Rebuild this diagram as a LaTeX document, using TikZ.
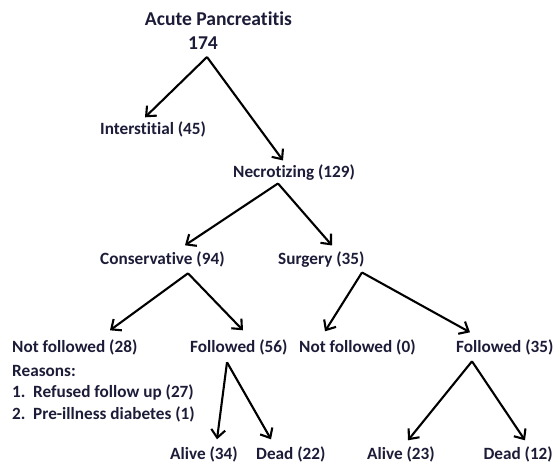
\documentclass[tikz,border=0pt]{standalone}
\usepackage{fontspec}
\setmainfont{Carlito}[Ligatures=NoCommon]
\usetikzlibrary{arrows.meta,calc}
\definecolor{ink}{HTML}{1C1C38}
\tikzset{
  lbl/.style={inner sep=0pt, text=ink, font=\fontsize{17.2}{21.5}\selectfont\bfseries},
  ttl/.style={inner sep=0pt, text=ink, font=\fontsize{19.6}{23}\selectfont\bfseries},
  arr/.style={line width=2.1pt, -{Straight Barb[length=8pt,width=14pt,line width=2.1pt]}}
}

\begin{document}
\begin{tikzpicture}[x=1pt,y=-1pt]
			%%%%% START %%%%%
			\useasboundingbox (0,0) rectangle (554,465);
			
			\node[ttl] (title) at (218.5, 19) {Acute Pancreatitis};
			\node[ttl] (total) at (203, 43) {174};
			
			\node[lbl, anchor=mid west] (inter) at (100, 132) {Interstitial (45)};
			\node[lbl, anchor=mid west] (necro) at (233, 175) {Necrotizing (129)};
			
			\node[lbl, anchor=mid west] (cons) at (100, 262) {Conservative (94)};
			\node[lbl, anchor=mid west] (surg) at (278, 262) {Surgery (35)};
			
			\node[lbl, anchor=mid west] (nfa) at (12, 350) {Not followed (28)};
			\node[lbl, anchor=mid west] (fa) at (190, 350) {Followed (56)};
			\node[lbl, anchor=mid west] (nfb) at (299, 350) {Not followed (0)};
			\node[lbl, anchor=mid west] (fb) at (456, 350) {Followed (35)};
			
			\node[lbl, anchor=west, align=left] (why) at (12, 393.5)
			  {Reasons:\\\makebox[21pt][l]{1.}Refused follow up (27)\\\makebox[21pt][l]{2.}Pre-illness diabetes (1)};
			
			\node[lbl, anchor=mid west] (alivea) at (170, 457) {Alive (34)};
			\node[lbl, anchor=mid west] (deada) at (256, 457) {Dead (22)};
			\node[lbl, anchor=mid west] (aliveb) at (367, 457) {Alive (23)};
			\node[lbl, anchor=mid east] (deadb) at (553, 457) {Dead (12)};
			
			% fork points under each parent
			\coordinate (k0) at ($(total.center)+(4, 14)$);
			\coordinate (k1) at ($(necro.west)+(45, 11)$);
			\coordinate (k2) at ($(cons.west)+(88, 14)$);
			\coordinate (k3) at ($(surg.west)+(84, 13)$);
			\coordinate (k4) at ($(fa.west)+(37, 15)$);
			\coordinate (k5) at ($(fb.west)+(16, 14)$);
			
			\draw[arr] (k0) -- ($(inter.west)+(45, -12)$);
			\draw[arr] (k0) -- ($(necro.west)+(50, -12)$);
			
			\draw[arr] (k1) -- ($(cons.west)+(85, -14)$);
			\draw[arr] (k1) -- ($(surg.west)+(54, -14)$);
			
			\draw[arr] (k2) -- ($(nfa.west)+(98, -17)$);
			\draw[arr] (k2) -- ($(fa.west)+(53, -17)$);
			\draw[arr] (k3) -- ($(nfb.west)+(26, -16)$);
			\draw[arr] (k3) -- ($(fb.west)+(14, -15)$);
			
			\draw[arr] (k4) -- ($(alivea.west)+(47, -15)$);
			\draw[arr] (k4) -- ($(deada.west)+(15, -15)$);
			\draw[arr] (k5) -- ($(aliveb.west)+(41, -14)$);
			\draw[arr] (k5) -- ($(deadb.east)+(-28, -14)$);
			
			%%%%% END %%%%%
\end{tikzpicture}
\end{document}
